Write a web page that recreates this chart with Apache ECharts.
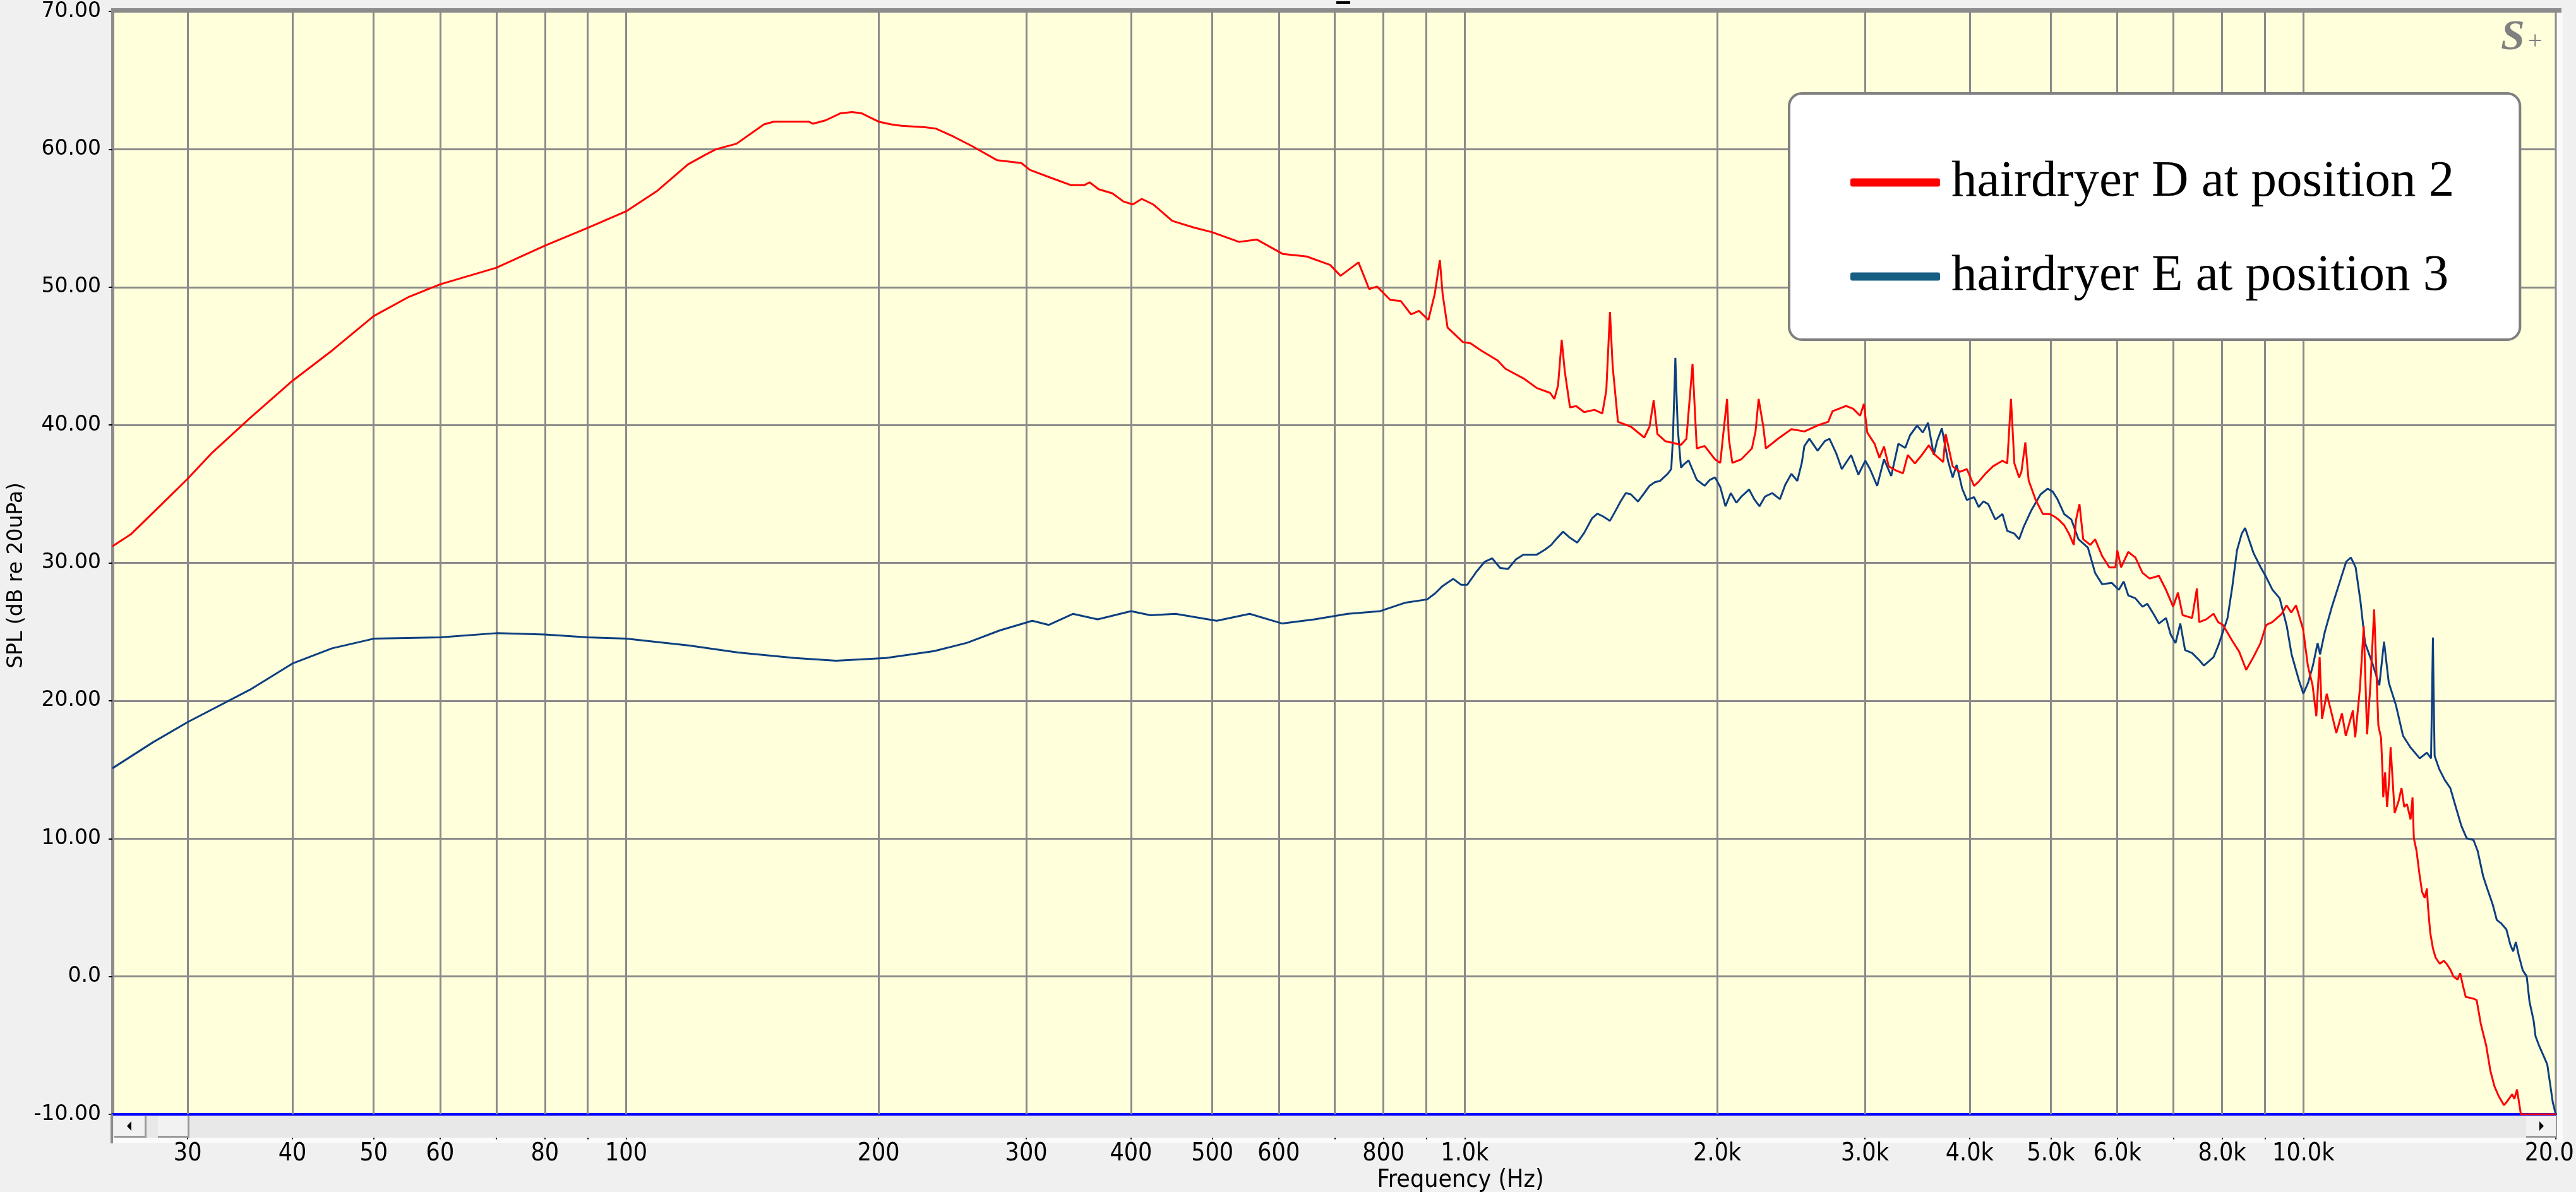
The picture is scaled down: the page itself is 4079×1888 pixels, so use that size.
<!DOCTYPE html>
<html>
<head>
<meta charset="utf-8">
<script src="https://cdn.jsdelivr.net/npm/echarts@6/dist/echarts.min.js"></script>
<style>
html,body{margin:0;padding:0;background:#f0f0f0;}
#chart{width:4079px;height:1888px;}
</style>
</head>
<body>
<div id="chart"></div>
<script>
// ---------- data ----------
const seriesNames = ['hairdryer D at position 2', 'hairdryer E at position 3'];

const freqD = [24.4,25.7,28.1,30,32.1,35.6,40,44.6,50,55.1,60,70,80,90,100,109,118.5,124.3,128,135.4,146,150,165,167,173,180,186,191,200,207,213,227,234,246,259,277,296,303,322,339,352,357,366,380,392,402,412,425,448,475,500,538,565,607,648,691,711,747,769,786,815,839,863,882,905,921,934,941,954,995,1016,1047,1094,1118,1175,1219,1264,1279,1292,1305,1316,1335,1358,1388,1428,1459,1475,1490,1501,1523,1578,1637,1661,1680,1697,1734,1811,1838,1869,1891,1932,1988,2017,2038,2055,2065,2085,2137,2200,2222,2241,2270,2286,2363,2452,2541,2635,2713,2745,2849,2905,2961,2992,3020,3081,3122,3162,3203,3267,3331,3375,3442,3508,3577,3625,3720,3745,3818,3893,3970,4049,4101,4182,4265,4377,4435,4481,4523,4582,4611,4661,4703,4796,4891,4987,5053,5106,5186,5254,5324,5358,5408,5464,5572,5645,5756,5870,5969,6000,6063,6183,6305,6430,6557,6726,6859,6994,7087,7179,7368,7465,7513,7662,7814,7914,8018,8221,8384,8548,8718,8890,9030,9183,9425,9549,9674,9800,9993,10124,10256,10363,10458,10527,10664,10807,10947,11119,11236,11457,11531,11681,11804,11913,12021,12146,12287,12378,12425,12453,12517,12585,12660,12707,12756,12850,12995,13093,13193,13291,13423,13495,13545,13645,13748,13852,13955,14039,14083,14167,14272,14379,14542,14707,14819,14987,15098,15269,15385,15500,15617,15913,16093,16276,16521,16711,16900,17092,17346,17477,17742,17849,17981,18076,18172,20000];
const splD = [31.2,32.1,34.4,36.1,38.0,40.5,43.2,45.4,47.9,49.3,50.2,51.4,53.0,54.3,55.5,57.0,58.9,59.6,60.0,60.4,61.8,62.0,62.0,61.85,62.1,62.6,62.7,62.6,62.0,61.8,61.7,61.6,61.5,60.9,60.2,59.2,59.0,58.5,57.9,57.4,57.4,57.6,57.1,56.8,56.2,56.0,56.4,56.0,54.8,54.33,53.98,53.28,53.45,52.4,52.22,51.61,50.82,51.79,49.86,50.04,49.07,48.99,48.02,48.28,47.62,49.51,51.96,49.51,47.06,46.01,45.92,45.39,44.69,44.08,43.38,42.68,42.33,41.89,42.86,46.18,43.91,41.28,41.37,40.93,41.1,40.84,42.5,48.2,44.26,40.23,39.88,39.09,39.88,41.8,39.35,38.83,38.56,39.0,44.43,38.3,38.48,37.51,37.25,39.88,41.89,39.0,37.25,37.51,38.3,39.53,41.89,39.88,38.3,39.0,39.7,39.53,39.97,40.23,41.0,41.38,41.18,40.67,41.53,39.45,38.64,37.62,38.43,37.0,36.7,36.5,37.82,37.21,37.82,38.53,37.92,37.31,39.35,37.0,36.6,36.8,35.58,35.89,36.5,37.0,37.41,37.21,41.89,37.21,36.19,36.6,38.74,35.99,34.56,33.54,33.54,33.34,33.14,32.73,32.12,31.3,33.14,34.26,31.71,31.3,31.71,30.49,29.67,29.67,30.9,29.67,30.79,30.39,29.27,28.86,29.06,28.04,26.82,27.84,26.21,26.0,28.14,25.7,25.91,26.31,25.7,25.5,24.38,23.56,22.24,23.16,24.18,25.5,25.7,26.31,26.92,26.4,26.92,25.19,22.55,21.12,18.88,23.16,18.68,20.51,19.08,17.66,19.08,17.45,19.29,17.35,20.92,25.4,17.56,21.12,26.62,18.2,17.3,15.0,13.0,14.8,12.3,14.35,16.63,15.0,11.85,12.76,13.67,12.3,12.5,11.39,12.98,10.02,9.11,7.52,6.15,5.7,6.38,5.02,3.19,2.05,1.37,0.92,1.14,0.92,0.46,0.0,-0.23,0.23,-0.68,-1.48,-1.59,-1.71,-3.42,-5.01,-6.83,-7.97,-8.66,-9.34,-9.11,-8.54,-8.88,-8.2,-9.11,-10,-10];

const freqE = [24.4,27.3,30,35.6,40,44.6,50,60,70,80,90,100,119,136,159,178,204,233,255,279,305,319,341,365,400,422,452,506,554,606,662,725,793,848,902,922,941,969,990,1007,1033,1056,1078,1102,1126,1151,1175,1219,1246,1268,1282,1310,1335,1362,1388,1418,1439,1459,1490,1512,1534,1556,1578,1609,1637,1661,1685,1709,1746,1763,1771,1779,1783,1788,1795,1811,1822,1849,1891,1932,1960,1988,2017,2046,2076,2108,2137,2183,2214,2246,2280,2326,2376,2411,2452,2492,2523,2541,2576,2635,2688,2722,2773,2816,2889,2947,3004,3043,3103,3162,3225,3289,3352,3396,3463,3517,3568,3625,3658,3706,3769,3818,3860,3919,3970,4049,4101,4154,4209,4292,4377,4435,4523,4582,4641,4733,4860,4956,5024,5086,5186,5289,5394,5535,5645,5756,5908,6025,6106,6183,6305,6430,6515,6640,6726,6859,6948,7040,7133,7227,7368,7513,7610,7711,7814,7914,8018,8121,8227,8334,8444,8522,8611,8724,8896,9013,9189,9371,9556,9682,9873,10001,10133,10266,10399,10470,10607,10816,11030,11248,11393,11544,11697,11848,12082,12320,12480,12643,12893,13150,13410,13764,14036,14200,14273,14300,14340,14526,14748,14970,15196,15430,15661,15956,16137,16380,16566,16816,17008,17200,17461,17659,17791,17924,18057,18262,18466,18606,18817,18917,19101,19318,19537,19686,19833,19983,20000];
const splE = [15.1,17.0,18.45,20.8,22.7,23.8,24.5,24.6,24.9,24.8,24.6,24.5,24.0,23.5,23.1,22.9,23.1,23.6,24.2,25.1,25.8,25.5,26.3,25.9,26.5,26.2,26.3,25.8,26.3,25.6,25.9,26.3,26.5,27.1,27.35,27.79,28.32,28.84,28.41,28.41,29.37,30.07,30.33,29.63,29.55,30.25,30.6,30.6,30.95,31.3,31.65,32.26,31.82,31.47,32.17,33.22,33.57,33.4,33.05,33.75,34.45,35.06,34.97,34.45,35.06,35.59,35.85,35.94,36.46,36.81,39.0,42.85,44.87,42.5,39.7,36.9,37.1,37.43,36.02,35.59,36.02,36.2,35.5,34.1,35.06,34.36,34.8,35.32,34.62,34.1,34.8,35.06,34.62,35.67,36.46,35.94,37.25,38.48,39.0,38.13,38.83,39.0,37.95,36.8,37.82,36.4,37.41,36.8,35.58,37.52,36.3,38.64,38.33,39.25,39.96,39.45,40.16,37.82,38.84,39.76,37.41,36.19,37.11,35.38,34.56,34.77,34.05,34.46,34.26,33.14,33.54,32.32,32.12,31.71,32.63,33.75,34.97,35.38,35.17,34.66,33.54,33.14,31.71,31.1,29.27,28.45,28.55,28.04,28.65,27.64,27.43,26.82,27.03,26.21,25.6,26.0,24.79,24.18,25.6,23.67,23.46,22.95,22.55,22.85,23.16,23.97,24.99,26.0,28.25,30.9,32.12,32.53,31.71,30.69,29.67,29.06,28.04,27.43,25.4,23.36,21.53,20.51,21.32,22.55,24.18,23.36,24.99,26.82,28.45,30.08,30.39,29.67,27.23,24.18,22.75,21.12,24.28,21.32,19.69,17.45,16.64,15.82,16.23,15.82,24.58,20.7,16.0,15.03,14.24,13.67,12.3,10.93,10.02,9.9,9.11,7.29,6.38,5.24,4.1,3.87,3.42,2.28,1.82,2.5,1.59,0.46,0.0,-1.82,-3.19,-4.33,-5.01,-5.69,-6.38,-7.75,-9.11,-9.91,-10];

// axis ranges and ticks
const freqMin = 24.4, freqMax = 20000;
const splMin = -10, splMax = 70, splStep = 10;
const gridFreqs = [30,40,50,60,70,80,90,100,200,300,400,500,600,700,800,900,1000,2000,3000,4000,5000,6000,7000,8000,9000,10000];
const tickFreqs = [30,40,50,60,70,80,90,100,200,300,400,500,600,700,800,900,1000,2000,3000,4000,5000,6000,7000,8000,9000,10000,20000];
const tickLabels = ['30','40','50','60','','80','','100','200','300','400','500','600','','800','','1.0k','2.0k','3.0k','4.0k','5.0k','6.0k','','8.0k','','10.0k','20.0k'];

// ---------- chart ----------
const pairs = (xs, ys) => xs.map((x, i) => [x, ys[i]]);
const narrow = '"Liberation Sans Narrow", "DejaVu Sans Condensed", "Arial Narrow", sans-serif';
const chart = echarts.init(document.getElementById('chart'), null, {renderer: 'canvas'});

const option = {
  animation: false,
  backgroundColor: '#f0f0f0',
  grid: [
    {left: 178, right: 32, top: 18, bottom: 123, show: true, backgroundColor: '#ffffdc', borderColor: '#8c8c8c', borderWidth: 3},
    {left: 178, right: 32, top: 1802, height: 10, show: false}
  ],
  xAxis: [
    {type: 'log', logBase: 10, gridIndex: 0, min: freqMin, max: freqMax,
     axisLine: {show: true, onZero: false, lineStyle: {color: '#0000ff', width: 4}},
     axisTick: {show: false}, axisLabel: {show: false}, splitLine: {show: false}, minorSplitLine: {show: false}},
    {type: 'log', logBase: 10, gridIndex: 1, min: freqMin, max: freqMax,
     axisLine: {show: false}, axisTick: {show: false}, axisLabel: {show: false}, splitLine: {show: false},
     name: 'Frequency (Hz)', nameLocation: 'middle', nameGap: 46,
     nameTextStyle: {fontFamily: narrow, fontSize: 39, color: '#000', padding: [0, 0, 0, 400]}}
  ],
  yAxis: [
    {type: 'value', gridIndex: 0, min: splMin, max: splMax, interval: splStep,
     axisLine: {show: true, lineStyle: {color: '#8c8c8c', width: 5}},
     axisTick: {show: true, length: 6, lineStyle: {color: '#000', width: 2}},
     axisLabel: {margin: 18, color: '#000', fontFamily: '"DejaVu Sans", Verdana, sans-serif', fontSize: 33,
                 formatter: v => v === 0 ? '0.0' : v.toFixed(2)},
     splitLine: {show: true, lineStyle: {color: '#8a8a8a', width: 3}},
     name: 'SPL (dB re 20uPa)', nameLocation: 'middle', nameGap: 113,
     nameTextStyle: {fontFamily: '"DejaVu Sans", Verdana, sans-serif', fontSize: 33, color: '#000', padding: [0, 40, 0, 0]}},
    {type: 'value', gridIndex: 1, min: 0, max: 1, show: false}
  ],
  legend: {
    orient: 'vertical', left: 2833, top: 148,
    padding: [91, 104, 50, 97], itemGap: 49, itemWidth: 142, itemHeight: 13, icon: 'roundRect',
    backgroundColor: '#ffffff', borderColor: '#808080', borderWidth: 4, borderRadius: 20,
    selectedMode: false,
    textStyle: {fontFamily: '"Liberation Serif", "Times New Roman", serif', fontSize: 81, color: '#000', lineHeight: 100, padding: [0, 0, 0, 13]},
    data: [
      {name: seriesNames[0], itemStyle: {color: '#ff0000'}},
      {name: seriesNames[1], itemStyle: {color: '#175e85'}}
    ]
  },
  graphic: [
    // scrollbar track
    {type: 'rect', z: 1, shape: {x: 178, y: 1767, width: 3869, height: 35}, style: {fill: '#e8e8e8'}},
    {type: 'rect', z: 1, shape: {x: 178, y: 1802, width: 3869, height: 8}, style: {fill: '#fbfbfb'}},
    // left button
    {type: 'rect', z: 1, shape: {x: 181, y: 1768, width: 51, height: 34}, style: {fill: '#9a9a9a'}},
    {type: 'rect', z: 1, shape: {x: 181, y: 1768, width: 48, height: 31}, style: {fill: '#f2f2f2'}},
    {type: 'polygon', z: 1, shape: {points: [[208, 1776], [208, 1791], [201, 1783.5]]}, style: {fill: '#000'}},
    // thumb
    {type: 'rect', z: 1, shape: {x: 250, y: 1768, width: 50, height: 34}, style: {fill: '#9a9a9a'}},
    {type: 'rect', z: 1, shape: {x: 250, y: 1768, width: 47, height: 31}, style: {fill: '#f2f2f2'}},
    // right button
    {type: 'rect', z: 1, shape: {x: 4000, y: 1768, width: 50, height: 34}, style: {fill: '#9a9a9a'}},
    {type: 'rect', z: 1, shape: {x: 4000, y: 1768, width: 47, height: 31}, style: {fill: '#f2f2f2'}},
    {type: 'polygon', z: 1, shape: {points: [[4021, 1776], [4021, 1791], [4028, 1783.5]]}, style: {fill: '#000'}},
    // frame pieces
    {type: 'rect', z: 1, shape: {x: 175, y: 1765, width: 4, height: 46}, style: {fill: '#8c8c8c'}},
    {type: 'rect', z: 1, shape: {x: 176, y: 13, width: 3880, height: 7}, style: {fill: '#8c8c8c'}},
    {type: 'rect', z: 1, shape: {x: 4049, y: 20, width: 9, height: 1790}, style: {fill: '#fafafa'}},
    {type: 'rect', z: 1, shape: {x: 2116, y: 2, width: 22, height: 4}, style: {fill: '#000'}},
    // S+ logo
    {type: 'text', z: 10, style: {text: 'S', x: 3960, y: 26, font: 'italic bold 68px "Liberation Serif", serif', fill: '#808080'}},
    {type: 'text', z: 10, style: {text: '+', x: 4003, y: 46, font: '40px "Liberation Serif", serif', fill: '#808080'}}
  ],
  series: [
    {name: seriesNames[1], type: 'line', xAxisIndex: 0, yAxisIndex: 0, z: 2,
     data: pairs(freqE, splE), symbol: 'none', showSymbol: false, clip: true,
     lineStyle: {color: '#0d3f80', width: 3}, itemStyle: {color: '#175e85'},
     markLine: {silent: true, z: 1, symbol: 'none', animation: false,
       label: {show: false}, emphasis: {disabled: true},
       lineStyle: {color: '#8a8a8a', width: 3, type: 'solid'},
       data: gridFreqs.map(f => ({xAxis: f}))}},
    {name: seriesNames[0], type: 'line', xAxisIndex: 0, yAxisIndex: 0, z: 3,
     data: pairs(freqD, splD), symbol: 'none', showSymbol: false, clip: true,
     lineStyle: {color: '#ff0000', width: 3}, itemStyle: {color: '#ff0000'}},
    {name: 'ticks', type: 'line', xAxisIndex: 1, yAxisIndex: 1, data: [], symbol: 'none',
     markLine: {silent: true, symbol: 'none', animation: false, emphasis: {disabled: true},
       lineStyle: {color: '#000', width: 2, type: 'solid'},
       label: {show: true, position: 'start', distance: 4, formatter: '{b}', color: '#000', fontFamily: narrow, fontSize: 39},
       data: tickFreqs.map((f, i) => ({xAxis: f, name: tickLabels[i]}))}}
  ]
};
chart.setOption(option);
</script>
</body>
</html>
